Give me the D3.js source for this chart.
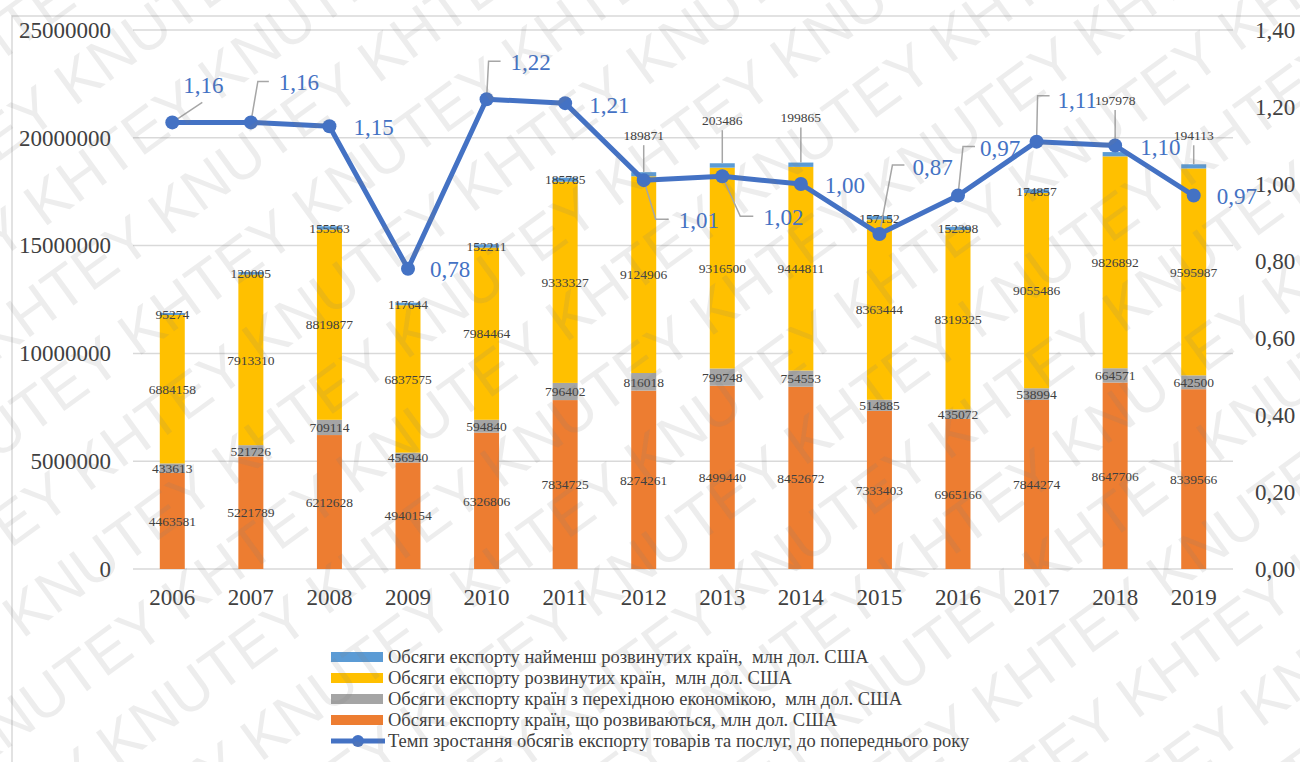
<!DOCTYPE html>
<html>
<head>
<meta charset="utf-8">
<script src="https://cdn.jsdelivr.net/npm/d3@7"></script>
<style>
  body { margin: 0; background: #fff; }
  svg { display: block; font-family: "Liberation Serif", "Times New Roman", serif; }
  .pre { white-space: pre; }
</style>
</head>
<body>
<svg id="chart" width="1300" height="762"></svg>
<script>
const years = ["2006", "2007", "2008", "2009", "2010", "2011", "2012", "2013", "2014", "2015", "2016", "2017", "2018", "2019"];
const developing = [4463581, 5221789, 6212628, 4940154, 6326806, 7834725, 8274261, 8499440, 8452672, 7333403, 6965166, 7844274, 8647706, 8339566];
const transition = [433613, 521726, 709114, 456940, 594840, 796402, 816018, 799748, 754553, 514885, 435072, 538994, 664571, 642500];
const developed = [6884158, 7913310, 8819877, 6837575, 7984464, 9333327, 9124906, 9316500, 9444811, 8363444, 8319325, 9055486, 9826892, 9595987];
const leastDeveloped = [95274, 120005, 155563, 117644, 152211, 185785, 189871, 203486, 199865, 157152, 152398, 174857, 197978, 194113];
const growth = [1.16, 1.16, 1.15, 0.78, 1.22, 1.21, 1.01, 1.02, 1.00, 0.87, 0.97, 1.11, 1.10, 0.97];
const leftTicks = [0, 5000000, 10000000, 15000000, 20000000, 25000000];
const rightTicks = [0, 0.2, 0.4, 0.6, 0.8, 1.0, 1.2, 1.4];

const seriesNames = [
  "Обсяги експорту країн, що розвиваються, млн дол. США",
  "Обсяги експорту країн з перехідною економікою,  млн дол. США",
  "Обсяги експорту розвинутих країн,  млн дол. США",
  "Обсяги експорту найменш розвинутих країн,  млн дол. США"
];
const lineName = "Темп зростання обсягів експорту товарів та послуг, до попереднього року";
const colors = ["#ED7D31", "#A5A5A5", "#FFC000", "#5B9BD5"];
const lineColor = "#4472C4";
const textColor = "#404040";

// label placement for line values (relative to point), leader polylines
const lineLabelLayout = [
  { dx: 11, dy: -37, leader: [[0, 0], [30, -20]] },
  { dx: 28, dy: -40, leader: [[0, 0], [7, -41], [18, -41]] },
  { dx: 24, dy: 1 },
  { dx: 22, dy: 0 },
  { dx: 24, dy: -37, leader: [[0, 0], [2, -38], [14, -38]] },
  { dx: 24, dy: 2 },
  { dx: 35, dy: 40, leader: [[0, 0], [12, 39], [25, 39]] },
  { dx: 41, dy: 41, leader: [[0, 0], [18, 40], [31, 40]] },
  { dx: 24, dy: 1 },
  { dx: 33, dy: -67, leader: [[0, 0], [13, -69], [25, -69]] },
  { dx: 22, dy: -48, leader: [[0, 0], [5, -49], [17, -49]] },
  { dx: 21, dy: -42, leader: [[0, 0], [1, -46], [13, -46]] },
  { dx: 25, dy: 1 },
  { dx: 23, dy: 0 }
];
// lifted labels of the top (blue) segment
const topLabelLift = { "2012": -37, "2013": -43, "2014": -45, "2018": -52, "2019": -29 };

const svg = d3.select("#chart");
const W = 1300, H = 762;
const plot = { left: 133, right: 1233, top: 30, bottom: 569 };

svg.append("rect").attr("x", 12).attr("y", 16).attr("width", 1300).attr("height", 760)
  .attr("fill", "#fff").attr("stroke", "#D9D9D9").attr("stroke-width", 1.5);

const x = d3.scaleBand().domain(years).range([plot.left, plot.right])
  .paddingInner(0.682).paddingOuter(0.341);
const yL = d3.scaleLinear().domain([0, 25000000]).range([plot.bottom, plot.top]);
const yR = d3.scaleLinear().domain([0, 1.4]).range([plot.bottom, plot.top]);

// gridlines
svg.append("g").selectAll("line").data(leftTicks).join("line")
  .attr("x1", plot.left).attr("x2", plot.right)
  .attr("y1", d => yL(d)).attr("y2", d => yL(d))
  .attr("stroke", "#D9D9D9").attr("stroke-width", 1.5);

// axes
const fmtR = d => d3.format(".2f")(d).replace(".", ",");
const leftAxis = svg.append("g").attr("transform", `translate(${plot.left - 22},0)`)
  .call(d3.axisLeft(yL).tickValues(leftTicks).tickFormat(d3.format("d")).tickSize(0).tickPadding(0));
const rightAxis = svg.append("g").attr("transform", `translate(1255,0)`)
  .call(d3.axisRight(yR).tickValues(rightTicks).tickFormat(fmtR).tickSize(0).tickPadding(0));
const bottomAxis = svg.append("g").attr("transform", `translate(0,${plot.bottom + 28})`)
  .call(d3.axisBottom(x).tickSize(0).tickPadding(0));
[leftAxis, rightAxis, bottomAxis].forEach(a => {
  a.select(".domain").remove();
  a.selectAll("text").attr("font-family", "Liberation Serif, serif")
    .attr("font-size", 23).attr("fill", textColor);
});
bottomAxis.selectAll("text").attr("dy", "0.35em");

// stacked bars
const table = years.map((yr, i) => ({
  year: yr, s0: developing[i], s1: transition[i], s2: developed[i], s3: leastDeveloped[i]
}));
const stack = d3.stack().keys(["s0", "s1", "s2", "s3"])(table);

const barG = svg.append("g");
stack.forEach((layer, k) => {
  barG.selectAll(null).data(layer).join("rect")
    .attr("x", d => x(d.data.year))
    .attr("width", x.bandwidth())
    .attr("y", d => yL(d[1]))
    .attr("height", d => yL(d[0]) - yL(d[1]))
    .attr("fill", colors[k]);
});

// bar data labels
const labG = svg.append("g").attr("font-size", 13.5).attr("fill", textColor).attr("text-anchor", "middle");
stack.forEach((layer, k) => {
  layer.forEach(d => {
    const cx = x(d.data.year) + x.bandwidth() / 2;
    let cy = (yL(d[0]) + yL(d[1])) / 2;
    const lift = k === 3 ? topLabelLift[d.data.year] : undefined;
    if (lift !== undefined) {
      const top = yL(d[1]);
      cy = top + lift;
      labG.append("line").attr("x1", cx).attr("x2", cx)
        .attr("y1", cy + 10).attr("y2", top)
        .attr("stroke", "#A6A6A6").attr("stroke-width", 1.5);
    }
    labG.append("text").attr("x", cx).attr("y", cy).attr("dy", "0.35em")
      .text(d.data[layer.key]);
  });
});

// growth line
const px = i => x(years[i]) + x.bandwidth() / 2;
const line = d3.line().x((d, i) => px(i)).y(d => yR(d));
svg.append("path").datum(growth).attr("d", line)
  .attr("fill", "none").attr("stroke", lineColor).attr("stroke-width", 5)
  .attr("stroke-linejoin", "round");

// leaders for line labels
const leaderLine = d3.line();
growth.forEach((v, i) => {
  const L = lineLabelLayout[i];
  if (L.leader) {
    svg.append("path")
      .attr("d", leaderLine(L.leader.map(p => [px(i) + p[0], yR(v) + p[1]])))
      .attr("fill", "none").attr("stroke", "#A6A6A6").attr("stroke-width", 1.5);
  }
});

svg.append("g").selectAll("circle").data(growth).join("circle")
  .attr("cx", (d, i) => px(i)).attr("cy", d => yR(d)).attr("r", 7)
  .attr("fill", lineColor);

svg.append("g").selectAll("text").data(growth).join("text")
  .attr("x", (d, i) => px(i) + lineLabelLayout[i].dx)
  .attr("y", (d, i) => yR(d) + lineLabelLayout[i].dy)
  .attr("dy", "0.35em")
  .attr("font-size", 23).attr("fill", lineColor)
  .text(d => fmtR(d));

// legend
const legend = svg.append("g").attr("transform", "translate(331,657)");
const legendItems = [
  { name: seriesNames[3], color: colors[3] },
  { name: seriesNames[2], color: colors[2] },
  { name: seriesNames[1], color: colors[1] },
  { name: seriesNames[0], color: colors[0] }
];
const rowH = 21;
legendItems.forEach((it, i) => {
  const g = legend.append("g").attr("transform", `translate(0,${i * rowH})`);
  g.append("rect").attr("x", 0).attr("y", -5).attr("width", 52).attr("height", 10).attr("fill", it.color);
  g.append("text").attr("class", "pre").attr("x", 57).attr("dy", "0.35em").attr("font-size", 18.5)
    .attr("fill", textColor).text(it.name);
});
const lg = legend.append("g").attr("transform", `translate(0,${4 * rowH})`);
lg.append("line").attr("x1", 0).attr("x2", 54).attr("stroke", lineColor).attr("stroke-width", 5);
lg.append("circle").attr("cx", 27).attr("r", 6).attr("fill", lineColor);
lg.append("text").attr("class", "pre").attr("x", 57).attr("dy", "0.35em").attr("font-size", 18.5)
  .attr("fill", textColor).text(lineName);

// watermark
const wm = svg.append("g").attr("pointer-events", "none")
  .attr("font-family", "Liberation Sans, Arial, sans-serif").attr("font-size", 60)
  .attr("fill", "#7f7f7f").attr("fill-opacity", 0.14)
  .attr("transform", `rotate(-36 ${W / 2} ${H / 2})`);
const wmText = d3.range(8).map((d, i) => i % 2 ? "KNUTEY" : "KHTEY").join(" ");
d3.range(-10, 12).forEach(r => {
  wm.append("text").attr("x", -700 + (r % 2) * 120).attr("y", H / 2 + r * 80)
    .text(wmText + " " + wmText);
});
</script>
</body>
</html>
